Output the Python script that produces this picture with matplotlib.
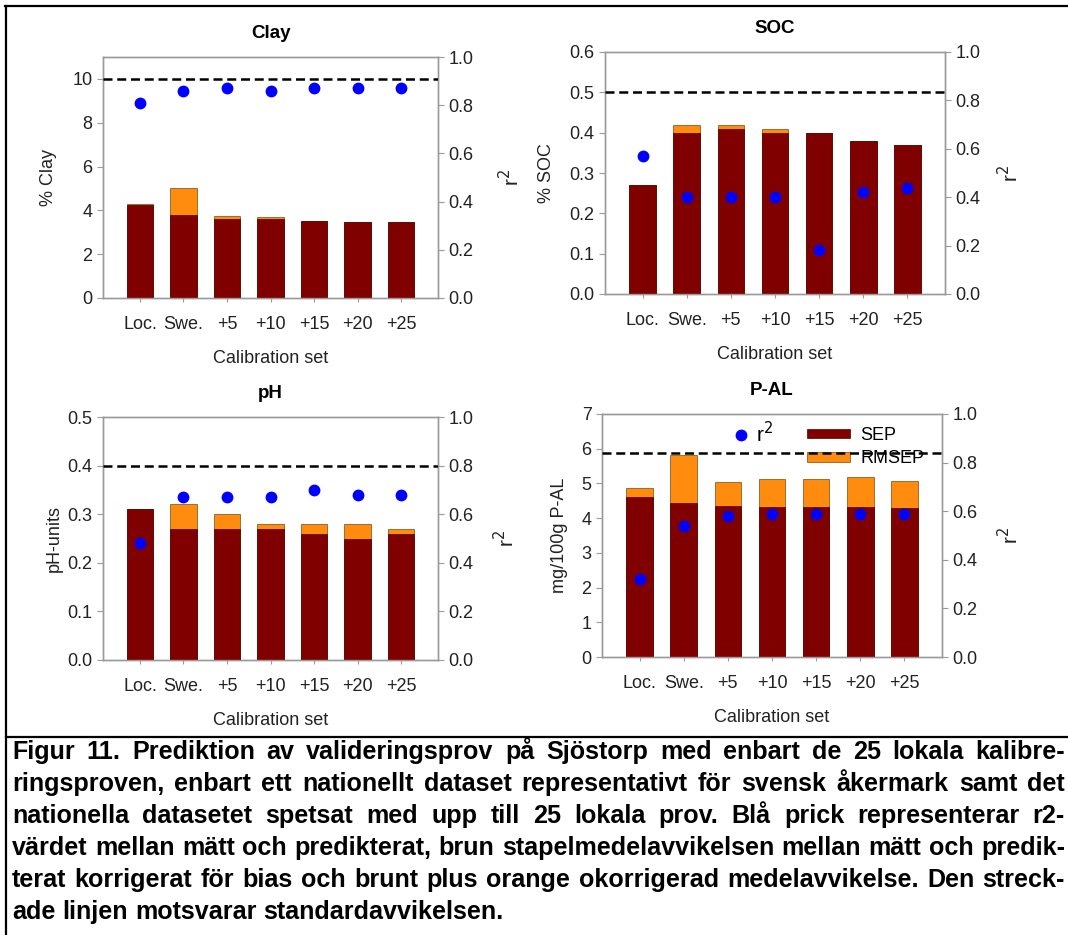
import numpy as np
import matplotlib
matplotlib.use("Agg")
import matplotlib.pyplot as plt
from matplotlib import font_manager
from matplotlib.lines import Line2D
from matplotlib.patches import Patch

plt.rcParams['font.family'] = ['Liberation Sans', 'DejaVu Sans']

# data
cats = ['Loc.', 'Swe.', '+5', '+10', '+15', '+20', '+25']

clay_sep = [4.25, 3.80, 3.60, 3.60, 3.50, 3.48, 3.45]
clay_rmsep = [4.30, 5.00, 3.75, 3.70, 3.50, 3.48, 3.45]
clay_r2 = [0.81, 0.86, 0.87, 0.86, 0.87, 0.87, 0.87]
clay_sd = 10.0

soc_sep = [0.27, 0.40, 0.41, 0.40, 0.40, 0.38, 0.37]
soc_rmsep = [0.27, 0.42, 0.42, 0.41, 0.40, 0.38, 0.37]
soc_r2 = [0.57, 0.40, 0.40, 0.40, 0.18, 0.42, 0.44]
soc_sd = 0.5

ph_sep = [0.31, 0.27, 0.27, 0.27, 0.26, 0.25, 0.26]
ph_rmsep = [0.31, 0.32, 0.30, 0.28, 0.28, 0.28, 0.27]
ph_r2 = [0.48, 0.67, 0.67, 0.67, 0.70, 0.68, 0.68]
ph_sd = 0.4

pal_sep = [4.62, 4.45, 4.35, 4.31, 4.31, 4.31, 4.28]
pal_rmsep = [4.88, 5.82, 5.03, 5.12, 5.12, 5.18, 5.08]
pal_r2 = [0.32, 0.54, 0.58, 0.59, 0.59, 0.59, 0.59]
pal_sd = 5.89

caption = ("Figur 11. Prediktion av valideringsprov på Sjöstorp med enbart de 25 lokala kalibre-|"
           "ringsproven, enbart ett nationellt dataset representativt för svensk åkermark samt det|"
           "nationella datasetet spetsat med upp till 25 lokala prov. Blå prick representerar r2-|"
           "värdet mellan mätt och predikterat, brun stapelmedelavvikelsen mellan mätt och predik-|"
           "terat korrigerat för bias och brunt plus orange okorrigerad medelavvikelse. Den streck-|"
           "ade linjen motsvarar standardavvikelsen.").split("|")

W, H = 1068, 935
RED = '#800000'
ORANGE = '#ff8c0f'
BLUE = '#0000ff'
GREY = '#9a9a9a'
TXT = '#222222'

installed = {f.name for f in font_manager.fontManager.ttflist}
cap_font = 'Liberation Sans Narrow' if 'Liberation Sans Narrow' in installed else 'Liberation Sans'

fig = plt.figure(figsize=(W / 100, H / 100), dpi=100)


def px_axes(l, t, r, b):
    return [l / W, 1 - b / H, (r - l) / W, (b - t) / H]


# title, ylabel, sep, rmsep, r2, sd, ymax, yticks, fmt, box(px), left label x, right label x
panels = [
    ('Clay', '% Clay', clay_sep, clay_rmsep, clay_r2, clay_sd, 11, np.arange(0, 11, 2), '%d',
     (103, 57, 438, 298), -0.137, 1.18),
    ('SOC', '% SOC', soc_sep, soc_rmsep, soc_r2, soc_sd, 0.6, np.arange(0, 0.61, 0.1), '%.1f',
     (605, 52, 945, 294), -0.147, 1.153),
    ('pH', 'pH-units', ph_sep, ph_rmsep, ph_r2, ph_sd, 0.5, np.arange(0, 0.51, 0.1), '%.1f',
     (103, 417, 438, 660), -0.119, 1.164),
    ('P-AL', 'mg/100g P-AL', pal_sep, pal_rmsep, pal_r2, pal_sd, 7, np.arange(0, 8, 1), '%d',
     (602, 414, 942, 657), -0.10, 1.162),
]

x = np.arange(len(cats))
for title, ylab, sep, rmsep, r2, sd, ymax, yt, fmt, box, labx, rlabx in panels:
    ax = fig.add_axes(px_axes(*box))
    ax.bar(x, rmsep, width=0.6, color=ORANGE, edgecolor='#7a4a10', linewidth=0.5, zorder=2)
    ax.bar(x, sep, width=0.6, color=RED, edgecolor='#4a0000', linewidth=0.5, zorder=3)
    ax.set_xlim(-0.85, 6.85)
    ax.set_ylim(0, ymax)
    ax.set_yticks(yt)
    ax.set_yticklabels([fmt % v for v in yt])
    ax.set_xticks(x)
    ax.set_xticklabels(cats)
    ax.set_title(title, fontsize=13.5, fontweight='bold', pad=14, color='black')
    ax.set_xlabel('Calibration set', fontsize=13, labelpad=12, color=TXT)
    ax.set_ylabel(ylab, fontsize=13, color=TXT)
    ax.yaxis.set_label_coords(labx, 0.5)
    ax.tick_params(axis='both', labelsize=13, colors=TXT, color=GREY, length=4, width=0.8)
    ax.tick_params(axis='x', length=3, pad=10)
    for s in ax.spines.values():
        s.set_color(GREY)
        s.set_linewidth(1.0)

    ax2 = ax.twinx()
    ax2.set_ylim(0, 1)
    ax2.set_yticks(np.arange(0, 1.01, 0.2))
    ax2.set_yticklabels(['%.1f' % v for v in np.arange(0, 1.01, 0.2)])
    ax2.tick_params(axis='y', labelsize=13, colors=TXT, color=GREY, length=4, width=0.8)
    for s in ax2.spines.values():
        s.set_color(GREY)
        s.set_linewidth(1.0)
    ax2.plot(x, r2, 'o', color=BLUE, markersize=7.5, zorder=5)
    ax2.axhline(sd / ymax, color='black', linestyle=(0, (3.6, 1.9)), linewidth=1.8, zorder=4)
    ax2.set_ylabel('r$^{2}$', fontsize=15, color=TXT, rotation=90)
    ax2.yaxis.set_label_coords(rlabx, 0.5)

    if title == 'P-AL':
        leg1 = ax.legend([Line2D([], [], marker='o', ls='', color=BLUE, markersize=7.5)], ['r$^{2}$'],
                         loc='center left', bbox_to_anchor=(0.385, 0.918), frameon=False,
                         fontsize=15, handlelength=0.8, handletextpad=0.3, borderpad=0,
                         borderaxespad=0)
        ax.add_artist(leg1)
        ax.legend([Patch(facecolor=RED, edgecolor='#4a0000', linewidth=0.5),
                   Patch(facecolor=ORANGE, edgecolor='#7a4a10', linewidth=0.5)],
                  ['SEP', 'RMSEP'], loc='upper left', bbox_to_anchor=(0.603, 0.946),
                  frameon=False, fontsize=13, handlelength=2.4, handleheight=0.4,
                  handletextpad=0.55, labelspacing=0.35, borderpad=0, borderaxespad=0)

# frame lines
lw = 1.6
sep_y = 737
fig.add_artist(Line2D([5 / W, 1], [1 - 6 / H, 1 - 6 / H], color='black', lw=lw))
fig.add_artist(Line2D([6 / W, 6 / W], [0, 1 - 6 / H], color='black', lw=lw))
fig.add_artist(Line2D([6 / W, 1], [1 - sep_y / H, 1 - sep_y / H], color='black', lw=lw))

# justified caption
fig.canvas.draw()
renderer = fig.canvas.get_renderer()


def width_px(s, fs):
    t = fig.text(0, 0, s, fontsize=fs, fontweight='bold', family=cap_font)
    w = t.get_window_extent(renderer).width
    t.remove()
    return w


left, right = 12, 1065
avail = right - left
fs0 = 10
natural = [width_px(line, fs0) for line in caption]
fs = fs0 * avail / max(natural) * 0.998
space_w = width_px('a a', fs) - width_px('aa', fs)
baselines = [759, 791, 823, 855, 887, 919]
for i, line in enumerate(caption):
    words = line.split(' ')
    ws = [width_px(wd, fs) for wd in words]
    if i < len(caption) - 1 and len(words) > 1:
        gap = (avail - sum(ws)) / (len(words) - 1)
    else:
        gap = space_w
    xp = left
    for wd, w in zip(words, ws):
        fig.text(xp / W, 1 - baselines[i] / H, wd, fontsize=fs, fontweight='bold',
                 family=cap_font, va='baseline', ha='left', color='black')
        xp += w + gap

fig.savefig('out.png', dpi=100)
